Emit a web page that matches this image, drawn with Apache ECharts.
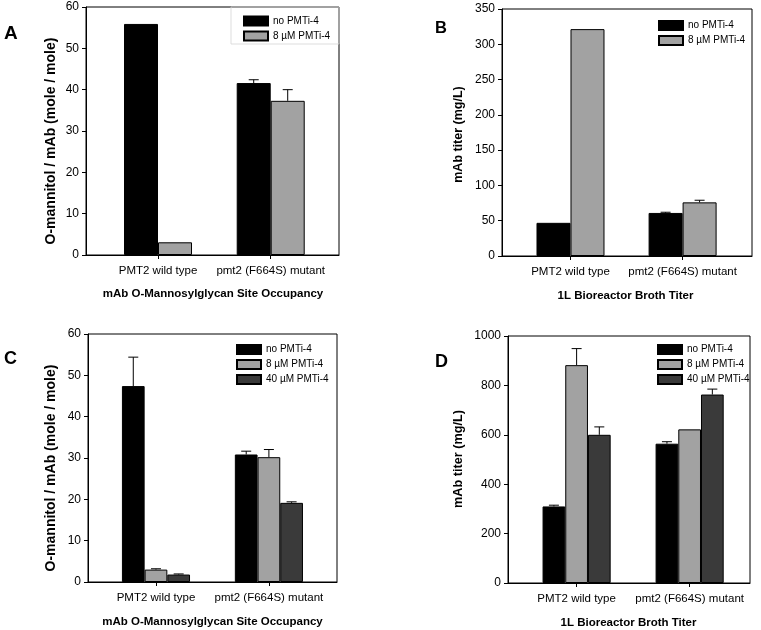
<!DOCTYPE html>
<html>
<head>
<meta charset="utf-8">
<script src="https://cdn.jsdelivr.net/npm/echarts@6/dist/echarts.min.js"></script>
<style>
html,body{margin:0;padding:0;background:#fff;}
#c{width:761px;height:630px;}
</style>
</head>
<body>
<div id="c"></div>
<script>
// ---- data ----
var categories = ['PMT2 wild type', 'pmt2 (F664S) mutant'];
var seriesNames = ['no PMTi-4', '8 \u00b5M PMTi-4', '40 \u00b5M PMTi-4'];

// Panel A: O-mannitol / mAb
var aNo = [55.9, 41.6];
var aNoErr = [0, 0.8];
var a8 = [3.07, 37.3];
var a8Err = [0, 2.7];

// Panel B: mAb titer (mg/L)
var bNo = [47, 61];
var bNoErr = [0, 1];
var b8 = [321.5, 76];
var b8Err = [0, 3];

// Panel C: O-mannitol / mAb
var cNo = [47.4, 30.85];
var cNoErr = [7.0, 0.8];
var c8 = [3.0, 30.2];
var c8Err = [0.2, 1.85];
var c40 = [1.8, 19.15];
var c40Err = [0.15, 0.25];

// Panel D: mAb titer (mg/L)
var dNo = [310, 564];
var dNoErr = [5, 8];
var d8 = [882, 622];
var d8Err = [67, 0];
var d40 = [600, 763];
var d40Err = [32, 22];

var yTitles = ['O-mannitol / mAb (mole / mole)', 'mAb titer (mg/L)'];
var xTitles = ['mAb O-Mannosylglycan Site Occupancy', '1L Bioreactor Broth Titer'];
var panelLetters = ['A', 'B', 'C', 'D'];

// ---- styles ----
var FONT = '"Liberation Sans", Arial, sans-serif';
var fills = ['#000000', '#a2a2a2', '#3a3a3a'];

var panels = [
  {grid: {left: 86, top: 7, width: 253, height: 248}, xmin: 0.361, xmax: 2.606, ymax: 60, yint: 10,
   vals: [aNo, a8], errs: [aNoErr, a8Err], barW: 34,
   legend: {left: 243, top: 15.5}},
  {grid: {left: 502, top: 9, width: 250, height: 247}, xmin: 0.389, xmax: 2.619, ymax: 350, yint: 50,
   vals: [bNo, b8], errs: [bNoErr, b8Err], barW: 34,
   legend: {left: 658, top: 20}},
  {grid: {left: 88, top: 334, width: 249, height: 248}, xmin: 0.398, xmax: 2.603, ymax: 60, yint: 10,
   vals: [cNo, c8, c40], errs: [cNoErr, c8Err, c40Err], barW: 22.7,
   legend: {left: 236, top: 344}},
  {grid: {left: 508, top: 336, width: 242, height: 247}, xmin: 0.393, xmax: 2.534, ymax: 1000, yint: 200,
   vals: [dNo, d8, d40], errs: [dNoErr, d8Err, d40Err], barW: 22.7,
   legend: {left: 657, top: 344}}
];

var grids = [], xAxes = [], yAxes = [], series = [], legends = [];

panels.forEach(function (p, pi) {
  grids.push(Object.assign({show: true, borderColor: '#000', borderWidth: 1, backgroundColor: 'transparent'}, p.grid));
  xAxes.push({
    type: 'value', gridIndex: pi, min: p.xmin, max: p.xmax,
    splitLine: {show: false},
    axisLine: {show: true, onZero: false, lineStyle: {color: '#000', width: 1}},
    axisTick: {show: true, length: 4, lineStyle: {color: '#000'}, customValues: [1, 2]},
    axisLabel: {show: true, customValues: [1, 2], margin: 10, color: '#000', fontSize: 11.5, fontFamily: FONT,
      formatter: function (v) { return categories[Math.round(v) - 1] || ''; }}
  });
  yAxes.push({
    type: 'value', gridIndex: pi, min: 0, max: p.ymax, interval: p.yint,
    splitLine: {show: false},
    axisLine: {show: true, lineStyle: {color: '#000', width: 1}},
    axisTick: {show: true, length: 4, lineStyle: {color: '#000'}},
    axisLabel: {margin: 7, color: '#000', fontSize: 12, fontFamily: FONT,
      formatter: function (v) { return String(v); }}
  });
  var n = p.vals.length;
  var legendNames = [];
  p.vals.forEach(function (vals, si) {
    legendNames.push(seriesNames[si]);
    series.push({
      type: 'bar', name: seriesNames[si], xAxisIndex: pi, yAxisIndex: pi,
      barWidth: p.barW, barGap: '0%',
      itemStyle: {color: fills[si], borderColor: '#000', borderWidth: 1},
      data: vals.map(function (v, ci) { return [ci + 1, v]; }),
      z: 2
    });
  });
  p.vals.forEach(function (vals, si) {
    var errs = p.errs[si];
    var offset = (si - (n - 1) / 2) * p.barW;
    series.push({
      type: 'custom', name: 'err_' + pi + '_' + si, xAxisIndex: pi, yAxisIndex: pi,
      z: 3, clip: false,
      data: vals.map(function (v, ci) { return [ci + 1, v, errs[ci]]; }),
      renderItem: function (params, api) {
        var e = api.value(2);
        if (!e) return null;
        var base = api.coord([api.value(0), api.value(1)]);
        var top = api.coord([api.value(0), api.value(1) + e]);
        var x = base[0] + offset;
        var cap = 5;
        return {
          type: 'group',
          children: [
            {type: 'line', shape: {x1: x, y1: base[1], x2: x, y2: top[1]}, style: {stroke: '#000', lineWidth: 1}},
            {type: 'line', shape: {x1: x - cap, y1: top[1], x2: x + cap, y2: top[1]}, style: {stroke: '#000', lineWidth: 1}}
          ]
        };
      }
    });
  });
  legends.push({
    orient: 'vertical', left: p.legend.left, top: p.legend.top, padding: 0,
    itemWidth: 24, itemHeight: 9, itemGap: 4, itemTextGap: 4,
    icon: 'rect', selectedMode: false,
    textStyle: {fontSize: 10, color: '#000', fontFamily: FONT, lineHeight: 10},
    data: legendNames
  });
});

function txt(x, y, text, size, weight, rot, align) {
  return {
    type: 'text', x: x, y: y, rotation: rot || 0, silent: true,
    style: {text: text, fill: '#000', font: weight + ' ' + size + 'px ' + FONT,
      align: align || 'center', verticalAlign: 'middle'}
  };
}

var graphics = [
  txt(4, 34, panelLetters[0], 19, 'bold', 0, 'left'),
  txt(435, 28, panelLetters[1], 16.5, 'bold', 0, 'left'),
  txt(4, 359.5, panelLetters[2], 18, 'bold', 0, 'left'),
  txt(435, 362, panelLetters[3], 18, 'bold', 0, 'left'),
  txt(51, 141, yTitles[0], 14, 'bold', Math.PI / 2),
  txt(458.5, 134.5, yTitles[1], 12.5, 'bold', Math.PI / 2),
  txt(51, 468, yTitles[0], 14, 'bold', Math.PI / 2),
  txt(458, 459, yTitles[1], 12.7, 'bold', Math.PI / 2),
  txt(213, 293.5, xTitles[0], 11.5, 'bold'),
  txt(625.5, 295.5, xTitles[1], 11.5, 'bold'),
  txt(212.5, 621.5, xTitles[0], 11.5, 'bold'),
  txt(628.5, 622.5, xTitles[1], 11.5, 'bold'),
  {type: 'rect', silent: true, shape: {x: 231, y: 7, width: 108, height: 37},
   style: {fill: 'none', stroke: '#d4d4d4', lineWidth: 0.8}}
];

var chart = echarts.init(document.getElementById('c'), null, {renderer: 'canvas'});
chart.setOption({
  animation: false,
  backgroundColor: '#ffffff',
  grid: grids,
  xAxis: xAxes,
  yAxis: yAxes,
  legend: legends,
  series: series,
  graphic: graphics
});
</script>
</body>
</html>
